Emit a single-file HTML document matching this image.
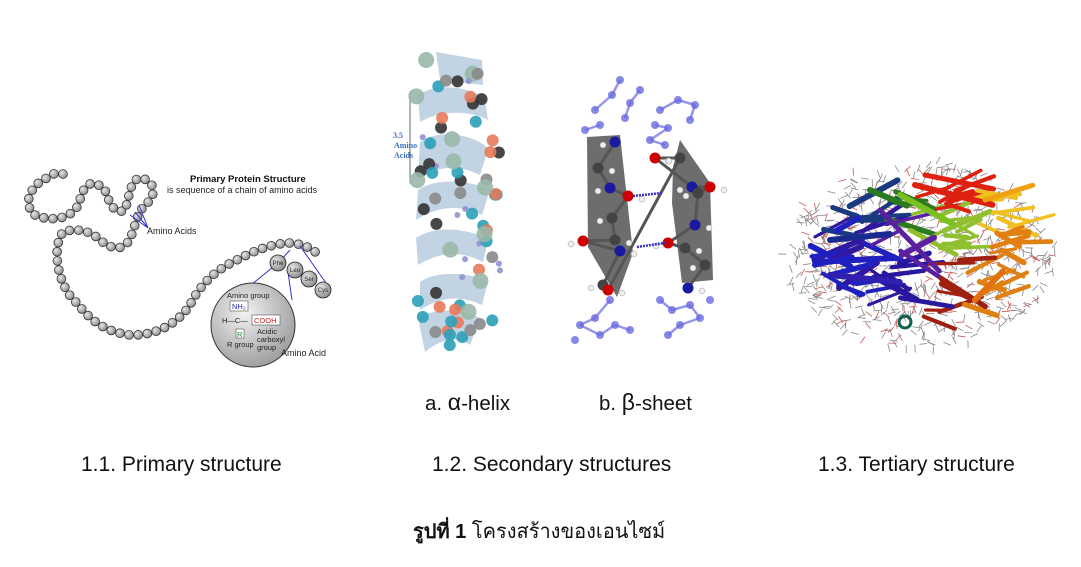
<!DOCTYPE html>
<html><head><meta charset="utf-8"><style>
body{margin:0;background:#fff;width:1081px;height:567px;overflow:hidden;position:relative;font-family:"Liberation Sans",Arial,sans-serif}
.t{position:absolute;white-space:nowrap;color:#111}
.l{font-size:21px}
</style></head><body>
<svg id="s" width="1081" height="567" style="position:absolute;left:0;top:0">
<defs>
<radialGradient id="gb" cx="35%" cy="35%" r="70%"><stop offset="0" stop-color="#e6e6e6"/><stop offset="1" stop-color="#8a8a8a"/></radialGradient>
<radialGradient id="big" cx="40%" cy="35%" r="70%"><stop offset="0" stop-color="#f2f2f2"/><stop offset="1" stop-color="#9a9a9a"/></radialGradient>
</defs>
<path id="chain" fill="none" stroke="none" d="M63 174 C55 172,50 175,47 178 C30 185,22 205,35 215 C50 222,75 220,80 200 C85 180,95 180,105 190 C110 205,115 215,125 210 C130 195,130 180,140 178 C155 180,158 195,145 205 C135 215,135 232,128 242 C122 250,112 250,100 240 C90 230,75 228,63 232 C50 250,60 290,77 303 C90 320,105 332,130 335 C160 336,180 320,190 305 C200 285,215 270,237 260 C255 250,275 243,290 243 C305 244,315 250,320 257"/>
<g id="beads"></g>
<g stroke="#33c" stroke-width="1" fill="none">
<path d="M148 228 L139 205 M148 228 L135 212 M148 228 L130 215"/>
<path d="M230 302 L278 263 L290 250 M292 300 L288 272 M300 246 L326 283"/>
</g>
<circle cx="253" cy="325" r="42" fill="url(#big)" stroke="#333"/>
<g fill="url(#gb)" stroke="#222" stroke-width="0.8">
<circle cx="278" cy="263" r="8"/><circle cx="295" cy="270" r="8"/><circle cx="309" cy="279" r="8"/><circle cx="323" cy="290" r="8"/>
</g>
<g font-size="6" fill="#222" text-anchor="middle"><text x="278" y="265">Phe</text><text x="295" y="272">Leu</text><text x="309" y="281">Ser</text><text x="323" y="292">Cys</text></g>
<g font-size="7.5" fill="#222">
<text x="227" y="298">Amino group</text>
<rect x="230" y="301" width="18" height="10" fill="#fff" stroke="#555" stroke-width=".6"/><text x="232" y="309" fill="#22a">NH₂</text>
<text x="222" y="323">H—C—</text>
<rect x="252" y="315" width="28" height="10" fill="#fff" stroke="#555" stroke-width=".6"/><text x="254" y="323" fill="#c22">COOH</text>
<rect x="236" y="329" width="8" height="9" fill="#fff" stroke="#555" stroke-width=".6"/><text x="237" y="337" fill="#282">R</text>
<text x="257" y="334">Acidic</text><text x="257" y="342">carboxyl</text><text x="257" y="350">group</text>
<text x="227" y="347">R group</text>
<text x="281" y="356" font-size="9">Amino Acid</text>
</g>
<text x="190" y="182" font-size="9.5" font-weight="bold" fill="#111">Primary Protein Structure</text>
<text x="167" y="193" font-size="9" fill="#222">is sequence of a chain of amino acids</text>
<text x="147" y="234" font-size="9" fill="#222">Amino Acids</text>

<g fill="#b8cce0" opacity=".85">
<path d="M436 52 L482 60 L483 85 L440 80Z"/>
<path d="M418 95 C440 80,480 90,485 100 L488 120 C470 110,440 110,420 122Z"/>
<path d="M420 142 C445 125,485 140,488 150 L480 175 C460 165,440 165,418 178Z"/>
<path d="M418 190 C440 175,478 183,490 190 L482 215 C460 205,440 205,416 220Z"/>
<path d="M416 238 C440 222,478 232,488 240 L483 262 C460 250,440 252,418 265Z"/>
<path d="M420 282 C440 268,478 275,488 282 L482 305 C460 295,440 297,420 310Z"/>
<path d="M418 318 C440 305,470 312,480 318 L470 345 C455 335,440 340,425 352Z"/>
</g>
<path d="M413 92 L410 92 L410 183 L413 183" stroke="#666" fill="none"/>
<g font-family="Liberation Serif,serif" font-weight="bold" font-size="8" fill="#3a6fc0"><text x="393" y="138">3.5</text><text x="394" y="148">Amino</text><text x="394" y="158">Acids</text></g>
<g id="hx"></g>
<polygon points="587,137 620,135 633,253 617,297 588,247" fill="#6d6d6d"/>
<polygon points="673,167 680,140 710,183 713,280 682,283 672,203" fill="#6d6d6d"/>
<g id="bt"></g>
<line x1="633" y1="196" x2="662" y2="193" stroke="#33c" stroke-width="2.5" stroke-dasharray="2 1"/>
<line x1="637" y1="247" x2="665" y2="243" stroke="#33c" stroke-width="2.5" stroke-dasharray="2 1"/>
<g id="te"></g>
</svg>
<div class="t" style="left:425px;top:389px;font-size:20.5px">a. <span style="font-size:23px">α</span>-helix</div>
<div class="t" style="left:599px;top:389px;font-size:20.5px">b. <span style="font-size:23px">β</span>-sheet</div>
<div class="t l" style="left:81px;top:453px">1.1. Primary structure</div>
<div class="t l" style="left:432px;top:453px">1.2. Secondary structures</div>
<div class="t l" style="left:818px;top:453px">1.3. Tertiary structure</div>
<div class="t" style="left:413px;top:515px;font-size:20px;font-family:'Liberation Sans','Noto Sans CJK SC',sans-serif"><b>รูปที่ 1</b> โครงสร้างของเอนไซม์</div>
<script>
var NS="http://www.w3.org/2000/svg";
function el(p,t,a){var e=document.createElementNS(NS,t);for(var k in a)e.setAttribute(k,a[k]);p.appendChild(e);return e;}
var p=document.getElementById("chain"),L=p.getTotalLength(),g=document.getElementById("beads");
for(var d=0;d<=L;d+=9.2){var q=p.getPointAtLength(d);el(g,"circle",{cx:q.x,cy:q.y,r:4.4,fill:"url(#gb)",stroke:"#333","stroke-width":.8});}
var r=1;function rnd(){r=(r*16807)%2147483647;return r/2147483647;}
var hx=document.getElementById("hx"),cols=["#2ba0b8","#8a8a8a","#333","#e87a5a","#9ab8a8","#9090d0"];
for(var i=0;i<70;i++){var y=60+rnd()*290,x=415+rnd()*85,c=cols[Math.floor(rnd()*6)];var rr=c=="#9090d0"?3:(c=="#9ab8a8"?8:6);el(hx,"circle",{cx:x,cy:y,r:rr,fill:c,opacity:.9});}
var bt=document.getElementById("bt");
var bl=[[620,80],[612,95],[595,110],[625,118],[630,103],[640,90],[600,125],[585,130],[660,110],[678,100],[695,105],[690,120],[655,125],[668,128],[650,140],[665,145],[610,300],[595,318],[580,325],[600,335],[615,325],[630,330],[575,340],[660,300],[672,310],[690,305],[700,318],[680,325],[668,335],[710,300]];
for(var i=0;i<bl.length;i++){el(bt,"circle",{cx:bl[i][0],cy:bl[i][1],r:4,fill:"#6a6ae0",opacity:.8});if(i>0&&Math.abs(bl[i][0]-bl[i-1][0])<25)el(bt,"line",{x1:bl[i-1][0],y1:bl[i-1][1],x2:bl[i][0],y2:bl[i][1],stroke:"#6a6ae0","stroke-width":2.5,opacity:.7});}
var at=[[615,142,"#1a1aa0"],[598,168,"#444"],[610,188,"#1a1aa0"],[628,196,"#c00"],[612,218,"#444"],[615,240,"#444"],[583,241,"#c00"],[620,251,"#1a1aa0"],[603,285,"#444"],[608,290,"#c00"],[680,158,"#444"],[655,158,"#c00"],[692,187,"#1a1aa0"],[710,187,"#c00"],[698,193,"#444"],[695,225,"#1a1aa0"],[668,243,"#c00"],[685,248,"#444"],[705,265,"#444"],[688,288,"#1a1aa0"]];
for(var i=0;i<at.length;i++){if(i>0)el(bt,"line",{x1:at[i-1][0],y1:at[i-1][1],x2:at[i][0],y2:at[i][1],stroke:"#555","stroke-width":3});}
for(var i=0;i<at.length;i++){el(bt,"circle",{cx:at[i][0],cy:at[i][1],r:5.5,fill:at[i][2]});el(bt,"circle",{cx:at[i][0]+(i%2?14:-12),cy:at[i][1]+3,r:3,fill:"#eee",stroke:"#999","stroke-width":.5});}
var te=document.getElementById("te");
for(var i=0;i<900;i++){var a=rnd()*6.283,rx=rnd(),x=920+Math.cos(a)*135*Math.sqrt(rx),y=255+Math.sin(a)*92*Math.sqrt(rx);var ang=rnd()*6.28;el(te,"line",{x1:x,y1:y,x2:x+Math.cos(ang)*8,y2:y+Math.sin(ang)*8,stroke:rnd()<.2?"#c55":"#888","stroke-width":.8});}
function rib(x,y,len,ang,c,w){el(te,"line",{x1:x,y1:y,x2:x+Math.cos(ang)*len,y2:y+Math.sin(ang)*len,stroke:c,"stroke-width":w,"stroke-linecap":"round"});}
function colAt(x,y){if(x<870)return y<230?"#1a3a80":(rnd()<.5?"#2020c0":"#3018a0");if(x<905)return y<220?"#2a7a20":(y<260?"#5a20a0":"#2818a0");if(x<960)return y<215?"#dd2010":(y<250?"#90c030":"#a02010");return y<230?"#f0c020":"#e08010";}
for(var i=0;i<90;i++){var a=rnd()*6.283,rx=rnd(),x=920+Math.cos(a)*110*Math.sqrt(rx),y=250+Math.sin(a)*70*Math.sqrt(rx);var ang=(rnd()-.5)*1.2;rib(x,y,20+rnd()*35,ang,colAt(x,y),3+rnd()*3);}
var R=[[830,240,60,-0.1,"#1a2a90",6],[815,262,80,-0.05,"#2020c0",6],[830,275,70,0.1,"#3020b0",6],[880,210,85,0.8,"#5a20a0",5],[870,190,40,0.4,"#2a7a20",6],[900,195,60,0.5,"#7ac020",6],[915,185,80,0.25,"#dd2010",6],[925,175,70,0.2,"#e02010",5],[985,200,50,-0.3,"#f0a010",5],[975,300,40,-0.8,"#e07010",6]];
for(var i=0;i<R.length;i++)rib.apply(null,R[i]);
el(te,"circle",{cx:905,cy:322,r:6,fill:"none",stroke:"#106050","stroke-width":3});
</script>
</body></html>
